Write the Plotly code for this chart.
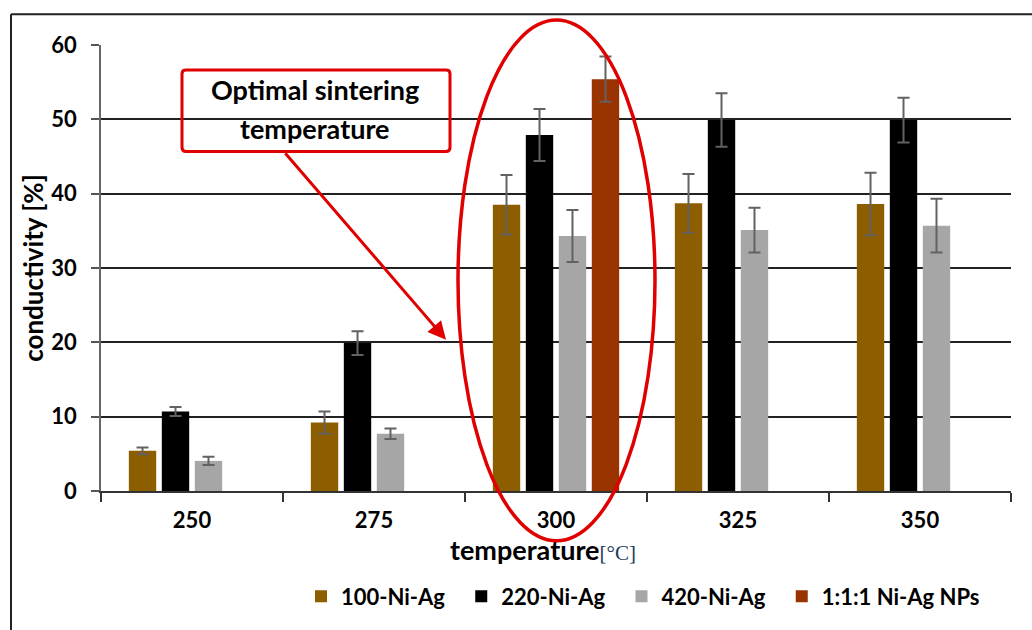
import plotly.graph_objects as go

categories = ["250", "275", "300", "325", "350"]
series_names = ["100-Ni-Ag", "220-Ni-Ag", "420-Ni-Ag", "1:1:1 Ni-Ag NPs"]
series_colors = ["#8C5E00", "#000000", "#A6A6A6", "#993300"]

vals_100 = [5.4, 9.2, 38.5, 38.7, 38.6]
err_100 = [0.45, 1.5, 4.0, 3.95, 4.2]
vals_220 = [10.7, 19.9, 47.9, 49.9, 49.9]
err_220 = [0.6, 1.6, 3.5, 3.6, 3.0]
vals_420 = [4.05, 7.7, 34.3, 35.1, 35.7]
err_420 = [0.55, 0.7, 3.5, 3.0, 3.6]
vals_111 = [None, None, 55.4, None, None]
err_111 = [0, 0, 3.05, 0, 0]

series_vals = [vals_100, vals_220, vals_420, vals_111]
series_errs = [err_100, err_220, err_420, err_111]

FONT = "Lato"
FS = 22
TFS = 27
W, H = 1032, 630
L, R, T, B = 101, 1011, 45, 493


def px(x):
    return (x - L) / (R - L)


def py(y):
    return (B - y) / (B - T)


fig = go.Figure()
for i, (name, color, v, e) in enumerate(zip(series_names, series_colors, series_vals, series_errs)):
    pad = "&nbsp;&nbsp;" if i < len(series_names) - 1 else ""
    fig.add_trace(go.Bar(
        x=categories, y=v, name=f"<b>{name}</b>{pad}",
        marker=dict(color=color, line=dict(width=0)),
        error_y=dict(type="data", array=e, visible=True,
                     color="#626262", thickness=2, width=6),
    ))

shapes = []
# outer frame (left + top)
shapes.append(dict(type="line", xref="paper", yref="paper",
                   x0=px(11), x1=px(11), y0=py(14), y1=py(640),
                   line=dict(color="#222222", width=2)))
shapes.append(dict(type="line", xref="paper", yref="paper",
                   x0=px(11), x1=px(1040), y0=py(14), y1=py(14),
                   line=dict(color="#222222", width=2)))
# ellipse
shapes.append(dict(type="circle", xref="paper", yref="paper",
                   x0=px(458), x1=px(655), y0=py(543), y1=py(20),
                   line=dict(color="#E00000", width=3.5)))


def rounded_rect(x0, y0, x1, y1, r):
    pts = [
        f"M{px(x0 + r)},{py(y0)}",
        f"L{px(x1 - r)},{py(y0)}",
        f"Q{px(x1)},{py(y0)} {px(x1)},{py(y0 + r)}",
        f"L{px(x1)},{py(y1 - r)}",
        f"Q{px(x1)},{py(y1)} {px(x1 - r)},{py(y1)}",
        f"L{px(x0 + r)},{py(y1)}",
        f"Q{px(x0)},{py(y1)} {px(x0)},{py(y1 - r)}",
        f"L{px(x0)},{py(y0 + r)}",
        f"Q{px(x0)},{py(y0)} {px(x0 + r)},{py(y0)}",
        "Z",
    ]
    return " ".join(pts)


shapes.append(dict(type="path", xref="paper", yref="paper",
                   path=rounded_rect(182, 70, 450, 152, 4),
                   line=dict(color="#E00000", width=3)))

annotations = [
    dict(xref="paper", yref="paper", x=px(315), y=py(90),
         xanchor="center", yanchor="middle",
         text="<b>Optimal sintering</b>", showarrow=False,
         font=dict(family=FONT, size=TFS, color="#000000")),
    dict(xref="paper", yref="paper", x=px(315), y=py(129),
         xanchor="center", yanchor="middle",
         text="<b>temperature</b>", showarrow=False,
         font=dict(family=FONT, size=TFS, color="#000000")),
    dict(xref="paper", yref="paper", x=px(446), y=py(341), text="",
         showarrow=True, ax=284 - 446, ay=153 - 341,
         arrowcolor="#E00000", arrowwidth=3, arrowhead=2, arrowsize=1.2,
         standoff=0),
    # x-axis title
    dict(xref="paper", yref="paper", x=px(543), y=py(552),
         xanchor="center", yanchor="middle", showarrow=False,
         text="<b>temperature</b><span style='font-family:Liberation Serif;font-size:21px;color:#1F3B5C'>[°C]</span>",
         font=dict(family=FONT, size=TFS, color="#000000")),
]

fig.update_layout(
    width=W, height=H,
    margin=dict(l=L, r=W - R, t=T, b=H - B),
    paper_bgcolor="white", plot_bgcolor="white",
    barmode="group", bargap=0.275, bargroupgap=0.17,
    font=dict(family=FONT, size=FS, color="#000000"),
    showlegend=True,
    legend=dict(orientation="h", x=px(301), xanchor="left",
                y=py(599), yanchor="middle",
                font=dict(family=FONT, size=22, color="#000000"),
                itemclick=False),
    shapes=shapes, annotations=annotations,
    xaxis=dict(
        tickson="boundaries", ticks="outside", ticklen=9,
        tickcolor="#333333", tickwidth=1.5,
        showline=True, linecolor="#333333", linewidth=2,
        tickfont=dict(family=FONT, size=FS, color="#000000"),
        tickprefix="<b>", ticksuffix="</b>",
        ticklabelstandoff=9,
        showgrid=False,
    ),
    yaxis=dict(
        range=[0, 60], dtick=10, ticks="outside", ticklen=8,
        tickcolor="#555555", tickwidth=1.5,
        showline=True, linecolor="#666666", linewidth=1.5,
        showgrid=True, gridcolor="#222222", gridwidth=2,
        zeroline=False,
        tickfont=dict(family=FONT, size=FS, color="#000000"),
        tickprefix="<b>", ticksuffix="</b>",
        ticklabelstandoff=10,
        title=dict(text="<b>conductivity [%]</b>",
                   font=dict(family=FONT, size=TFS - 1, color="#000000"),
                   standoff=0),
    ),
)

fig.write_html("out.html", config={"displayModeBar": False},
               post_script="document.body.style.margin='0';document.body.style.overflow='hidden';")
